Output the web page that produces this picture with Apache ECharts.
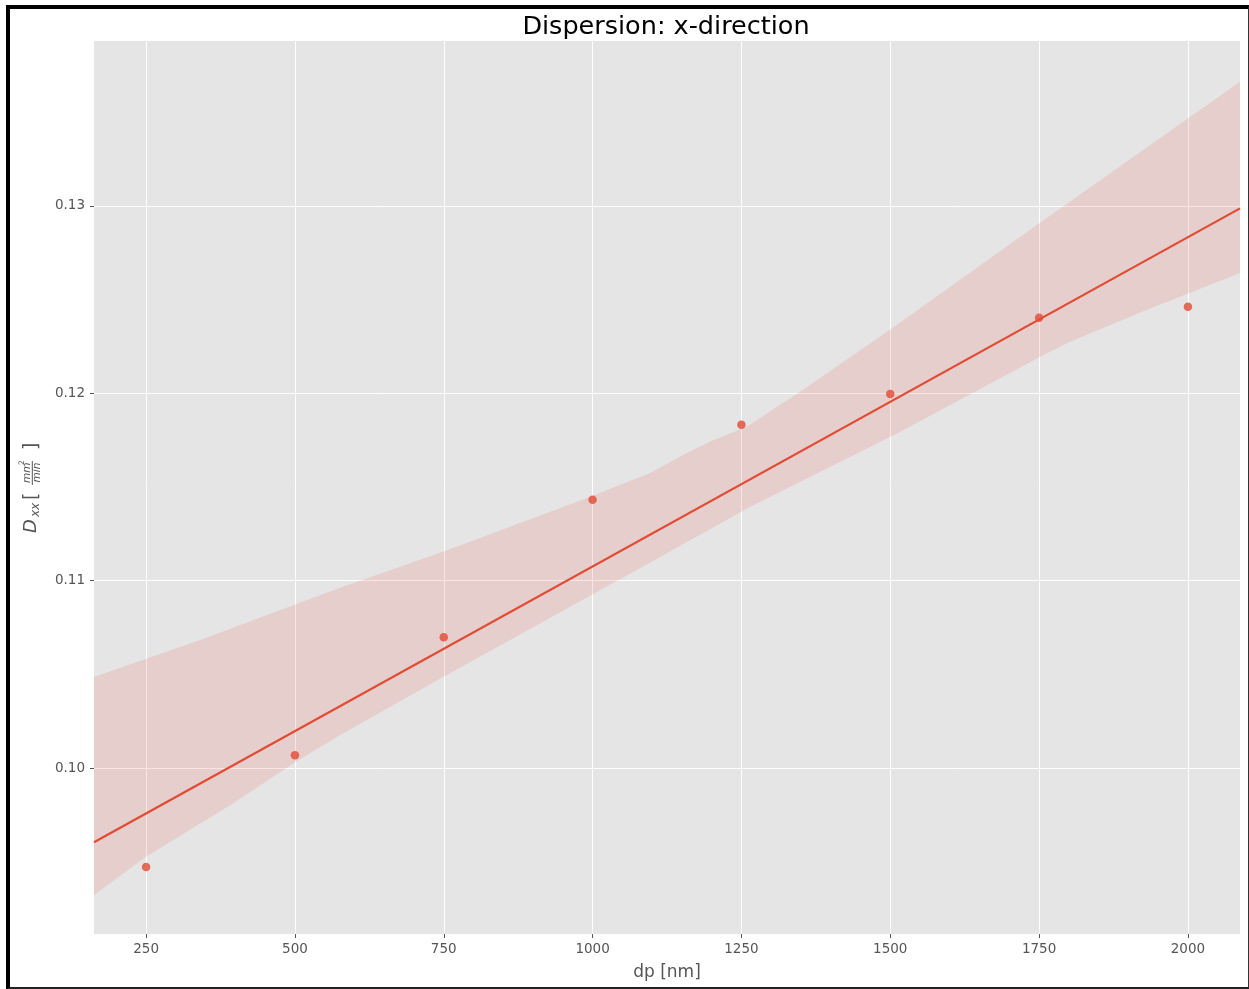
<!DOCTYPE html>
<html><head><meta charset="utf-8">
<script src="https://cdn.jsdelivr.net/npm/echarts@6/dist/echarts.min.js"></script>
<style>
html,body{margin:0;padding:0;background:#fff;}
#chart{width:1249px;height:989px;}
#frame{position:absolute;left:6px;top:5px;width:1243px;height:984px;box-sizing:border-box;border-left:4px solid #000;border-top:4px solid #000;border-right:1px solid #333;border-bottom:2px solid #222;pointer-events:none;}
</style></head><body>
<div id="chart"></div><div id="frame"></div>
<script>
// ---- data ----
const xValues = [250, 500, 750, 1000, 1250, 1500, 1750, 2000];
const dxxValues = [0.09472, 0.10069, 0.10699, 0.11432, 0.11832, 0.11997, 0.12403, 0.12462];
const fitX = [162.5, 2087.5];
const fitY = [0.09605, 0.12987];
const ciUpperX = [162.5, 341, 576, 749, 1001, 1013, 1097, 1152, 1197, 1259, 1348, 1499, 1751, 2087.5];
const ciUpperY = [0.10487, 0.10684, 0.10962, 0.11154, 0.11453, 0.11469, 0.11575, 0.11671, 0.11741, 0.11821, 0.12007, 0.12338, 0.12909, 0.13662];
const ciLowerX = [162.5, 249, 397, 501, 576, 749, 1080, 1264, 1516, 1751, 1801, 1930, 2087.5];
const ciLowerY = [0.09323, 0.09526, 0.09814, 0.10033, 0.10177, 0.10487, 0.11068, 0.11394, 0.11794, 0.12194, 0.12274, 0.12445, 0.12642];
const xTicks = [250, 500, 750, 1000, 1250, 1500, 1750, 2000];
const yTicks = [0.10, 0.11, 0.12, 0.13];
const xRange = [162.5, 2087.5];
const yRange = [0.09115, 0.1388];
const titleText = 'Dispersion: x-direction';
const xName = 'dp [nm]';

const FONT = 'DejaVu Sans';
const RED = '#E24A33';
const LABEL = '#555555';

const chart = echarts.init(document.getElementById('chart'), null, {renderer: 'canvas'});

function bandItem(params, api) {
  const pts = [];
  for (let i = 0; i < ciUpperX.length; i++) pts.push(api.coord([ciUpperX[i], ciUpperY[i]]));
  for (let i = ciLowerX.length - 1; i >= 0; i--) pts.push(api.coord([ciLowerX[i], ciLowerY[i]]));
  return {type: 'polygon', shape: {points: pts}, style: {fill: 'rgba(226,74,51,0.15)', stroke: null}};
}

function t(text, x, y, size, italic) {
  return {type: 'text', x: x, y: y, silent: true, style: {
    text: text, font: (italic ? 'italic ' : '') + size + 'px "DejaVu Sans"',
    fill: LABEL, align: 'left', verticalAlign: 'middle', textAlign: 'left', textVerticalAlign: 'middle'}};
}

const option = {
  animation: false,
  backgroundColor: '#ffffff',
  title: {
    text: titleText, left: 666, top: 14, padding: 0, textAlign: 'center',
    textStyle: {fontFamily: FONT, fontSize: 25.5, fontWeight: 'normal', color: '#000'}
  },
  grid: {left: 94, right: 9, top: 41, bottom: 55, show: true, backgroundColor: '#E5E5E5', borderWidth: 0, containLabel: false},
  xAxis: {
    type: 'value', min: xRange[0], max: xRange[1],
    axisLine: {show: false},
    axisTick: {show: true, customValues: xTicks, length: 4, lineStyle: {color: LABEL, width: 1}},
    axisLabel: {customValues: xTicks, color: LABEL, fontSize: 13.5, fontFamily: FONT, margin: 8,
      formatter: v => String(v)},
    splitLine: {show: true, lineStyle: {color: '#ffffff', width: 1}},
    name: xName, nameLocation: 'middle', nameGap: 30,
    nameTextStyle: {fontSize: 17, color: LABEL, fontFamily: FONT}
  },
  yAxis: {
    type: 'value', min: yRange[0], max: yRange[1],
    axisLine: {show: false},
    axisTick: {show: true, customValues: yTicks, length: 4, lineStyle: {color: LABEL, width: 1}},
    axisLabel: {customValues: yTicks, color: LABEL, fontSize: 13.5, fontFamily: FONT, margin: 9,
      formatter: v => v.toFixed(2)},
    splitLine: {show: true, lineStyle: {color: '#ffffff', width: 1}}
  },
  graphic: [{
    type: 'group', x: 37.3, y: 533, rotation: Math.PI / 2, silent: true,
    children: [
      t('D', 0, -5.5, 18, true),
      t('xx', 16, -1.2, 12, true),
      t('[', 33, -5.5, 19, false),
      t('mm', 50, -10, 10.5, true),
      t('2', 68, -15.5, 7.5, false),
      {type: 'line', silent: true, shape: {x1: 48, y1: -5, x2: 72, y2: -5}, style: {stroke: LABEL, lineWidth: 1}},
      t('min', 50.5, -0.5, 10.5, true),
      t(']', 83, -5.5, 19, false)
    ]
  }],
  series: [
    {type: 'custom', renderItem: bandItem, data: [[xRange[0], yRange[0]]], z: 1, silent: true},
    {type: 'scatter', data: xValues.map((x, i) => [x, dxxValues[i]]), symbolSize: 8.5,
      itemStyle: {color: RED, opacity: 0.8}, z: 2, silent: true},
    {type: 'line', data: fitX.map((x, i) => [x, fitY[i]]), showSymbol: false, symbol: 'none',
      lineStyle: {color: RED, width: 2.2}, z: 3, silent: true}
  ]
};
chart.setOption(option);
</script>
</body></html>
